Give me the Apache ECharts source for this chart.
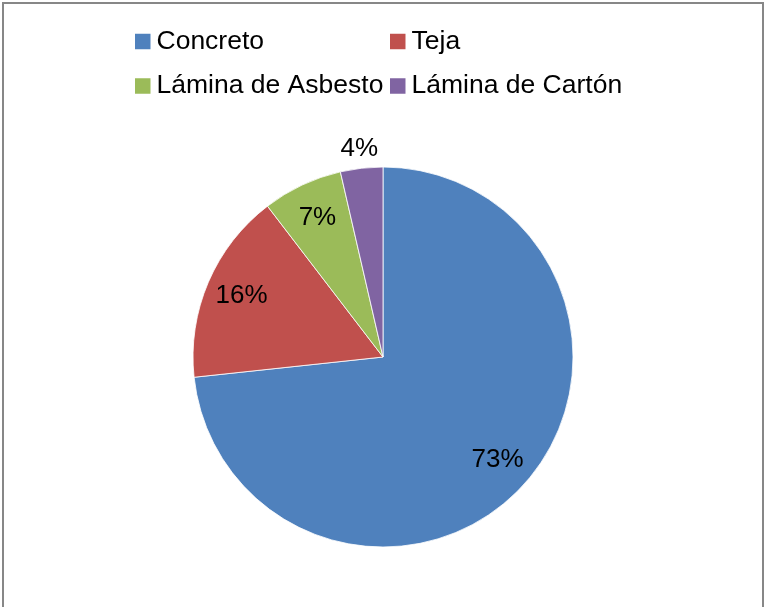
<!DOCTYPE html>
<html>
<head>
<meta charset="utf-8">
<script src="https://cdn.jsdelivr.net/npm/echarts@6/dist/echarts.min.js"></script>
<style>
  html, body { margin: 0; padding: 0; background: #fff; }
  #chart { position: absolute; left: 0; top: 0; width: 765px; height: 607px; }
  #frame { position: absolute; left: 2px; top: 2px; width: 762px; height: 640px;
           border: 2px solid #878787; box-sizing: border-box; pointer-events: none; }
</style>
</head>
<body>
<div id="chart"></div>
<div id="frame"></div>
<script>
// categories and shares
var categories = ['Concreto', 'Teja', 'Lámina de Asbesto', 'Lámina de Cartón'];
var values = [73.3, 16.3, 6.8, 3.6];
var colors = ['#4F81BD', '#C0504D', '#9BBB59', '#8064A2'];

var FONT = '"Liberation Sans", Arial, sans-serif';
var center = [383, 357];

function pct(p) { return Math.round(p.percent) + '%'; }

// main slices
var pieData = categories.map(function (c, i) {
    return { name: c, value: values[i], itemStyle: { color: colors[i] } };
});
// invisible pies, only used to put the labels further out (~0.8r and ~1.09r)
var innerLabelData = categories.map(function (c, i) {
    return { name: c, value: values[i], label: { show: i < 3 } };
});
var outerLabelData = categories.map(function (c, i) {
    return { name: c, value: values[i], label: { show: i === 3 } };
});

function legendData(idx) {
    return idx.map(function (i) {
        return { name: categories[i], itemStyle: { color: colors[i] } };
    });
}
function legendAt(left, idx) {
    return {
        orient: 'vertical',
        left: left,
        top: 26,
        padding: 0,
        itemWidth: 17.5,
        itemHeight: 17.5,
        itemGap: 13.5,
        icon: 'rect',
        selectedMode: false,
        textStyle: { fontFamily: FONT, fontSize: 26.5, color: '#000', lineHeight: 31 },
        data: legendData(idx)
    };
}

var labelPie = {
    type: 'pie',
    center: center,
    startAngle: 90,
    clockwise: true,
    silent: true,
    avoidLabelOverlap: false,
    itemStyle: { color: 'rgba(0,0,0,0)' },
    labelLine: { show: false },
    emphasis: { disabled: true }
};

var myChart = echarts.init(document.getElementById('chart'));
myChart.setOption({
    animation: false,
    legend: [legendAt(133, [0, 2]), legendAt(388, [1, 3])],
    series: [
        {
            type: 'pie',
            name: 'main',
            center: center,
            radius: 190,
            startAngle: 90,
            clockwise: true,
            silent: true,
            label: { show: false },
            labelLine: { show: false },
            itemStyle: { borderColor: '#fff', borderWidth: 0.8 },
            data: pieData
        },
        Object.assign({}, labelPie, {
            name: 'labIn',
            radius: 302,
            label: { position: 'inside', formatter: pct, fontFamily: FONT, fontSize: 26, color: '#000' },
            data: innerLabelData
        }),
        Object.assign({}, labelPie, {
            name: 'labOut',
            radius: 414,
            label: { position: 'inside', formatter: pct, fontFamily: FONT, fontSize: 26, color: '#000' },
            data: outerLabelData
        })
    ]
});
</script>
</body>
</html>
